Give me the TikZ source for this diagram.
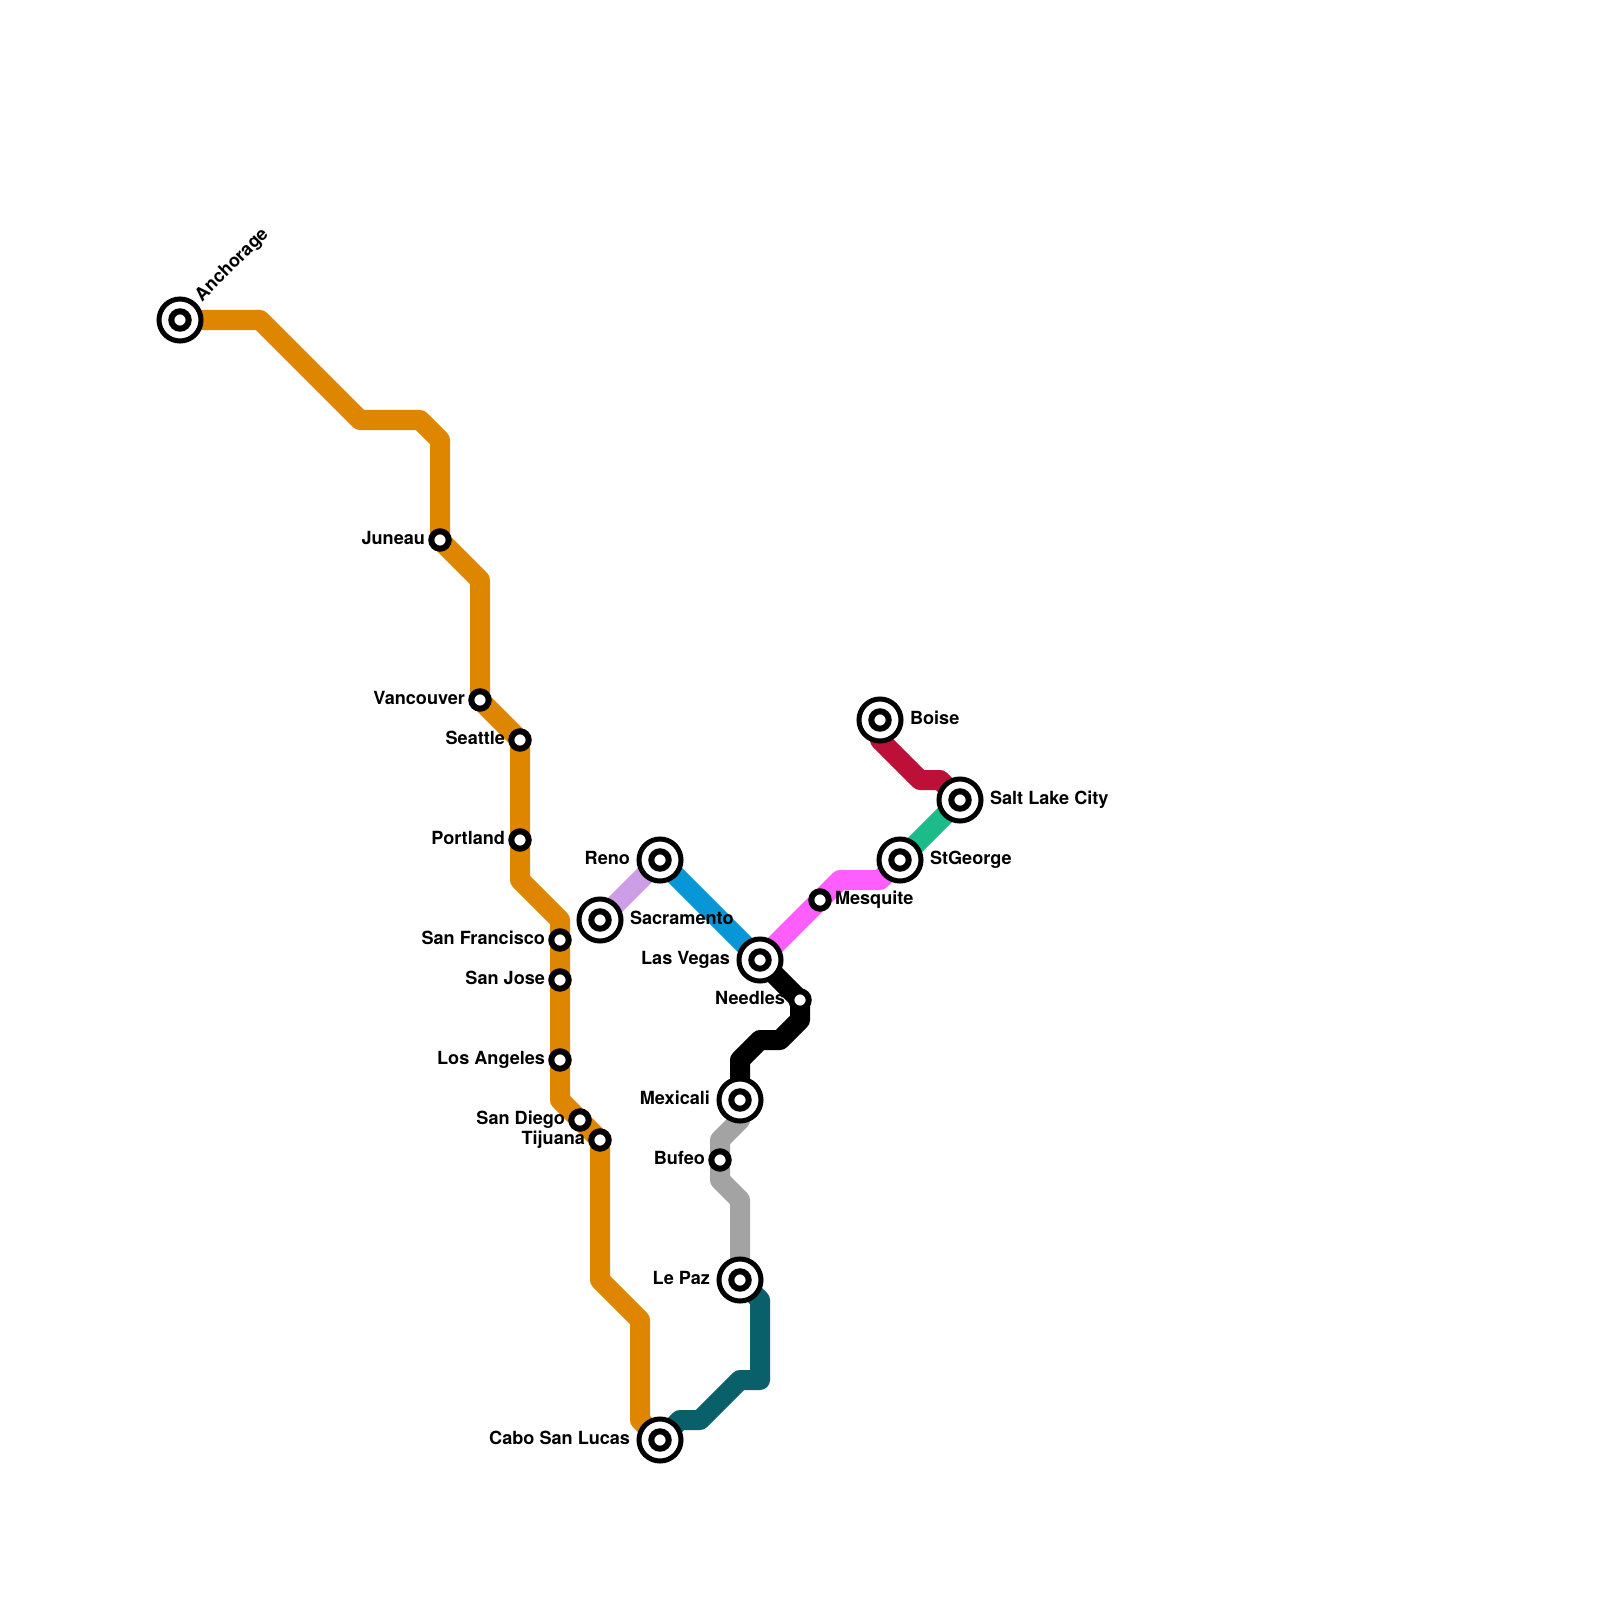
\documentclass[tikz,border=0pt]{standalone}
\usepackage{fontspec}
\setmainfont{TeX Gyre Heros}
\pgfdeclarelayer{lines}
\pgfsetlayers{lines,main}
\definecolor{cOrange}{HTML}{DF8600}
\definecolor{cRed}{HTML}{BD1038}
\definecolor{cTeal}{HTML}{09606A}
\definecolor{cLilac}{HTML}{CC9EE8}
\definecolor{cBlue}{HTML}{0896D7}
\definecolor{cPink}{HTML}{FF5EFF}
\definecolor{cGreen}{HTML}{1BBC8A}
\definecolor{cGray}{HTML}{A3A3A3}
\tikzset{
  route/.style={line width=0.2cm,line join=round,line cap=round},
  halt/.style={circle,draw=black,fill=white,line width=0.06cm,minimum size=0.174cm,inner sep=0pt,outer sep=0pt},
  hub/.style={circle,draw=black,fill=white,line width=0.05cm,minimum size=0.42cm,inner sep=0pt,outer sep=0pt,
    path picture={\draw[black,line width=0.06cm] (path picture bounding box.center) circle (0.087cm);}},
  lbl/.style={font=\fontsize{5.15}{6}\selectfont\bfseries,text=black,inner sep=0pt,outer sep=0pt},
  tl/.style={lbl,anchor=base east},
  tr/.style={lbl,anchor=base west},
}
\begin{document}
\begin{tikzpicture}[x=0.01cm,y=-0.01cm]
\useasboundingbox (0,0) rectangle (1600,1600);
% stations
\node[hub] (anchorage) at (180,320) {};
\node[halt] (juneau) at (440,540) {};
\node[halt] (vancouver) at (480,700) {};
\node[halt] (seattle) at (520,740) {};
\node[halt] (portland) at (520,840) {};
\node[halt] (sanfran) at (560,940) {};
\node[halt] (sanjose) at (560,980) {};
\node[halt] (losangeles) at (560,1060) {};
\node[halt] (sandiego) at (580,1120) {};
\node[halt] (tijuana) at (600,1140) {};
\node[hub] (cabo) at (660,1440) {};
\node[hub] (lepaz) at (740,1280) {};
\node[halt] (bufeo) at (720,1160) {};
\node[hub] (mexicali) at (740,1100) {};
\node[halt] (needles) at (800,1000) {};
\node[hub] (lasvegas) at (760,960) {};
\node[hub] (reno) at (660,860) {};
\node[hub] (sacramento) at (600,920) {};
\node[halt] (mesquite) at (820,900) {};
\node[hub] (stgeorge) at (900,860) {};
\node[hub] (saltlake) at (960,800) {};
\node[hub] (boise) at (880,720) {};
% labels
\node[lbl,anchor=base west,rotate=45] (lAnchorage) at (202,302) {Anchorage};
\node[tl] (lJuneau) at (425,544) {Juneau};
\node[tl] (lVancouver) at (465,704) {Vancouver};
\node[tl] (lSeattle) at (505,744) {Seattle};
\node[tl] (lPortland) at (505,844) {Portland};
\node[tl] (lSanFran) at (545,944) {San Francisco};
\node[tl] (lSanJose) at (545,984) {San Jose};
\node[tl] (lLA) at (545,1064) {Los Angeles};
\node[tl] (lSanDiego) at (565,1124) {San Diego};
\node[tl] (lTijuana) at (585,1144) {Tijuana};
\node[tl] (lCabo) at (630,1444) {Cabo San Lucas};
\node[tl] (lLePaz) at (710,1284) {Le Paz};
\node[tl] (lBufeo) at (705,1164) {Bufeo};
\node[tl] (lMexicali) at (710,1104) {Mexicali};
\node[tl] (lNeedles) at (785,1004) {Needles};
\node[tl] (lLasVegas) at (730,964) {Las Vegas};
\node[tl] (lReno) at (630,864) {Reno};
\node[tr] (lSacramento) at (630,924) {Sacramento};
\node[tr] (lMesquite) at (835,904) {Mesquite};
\node[tr] (lStGeorge) at (930,864) {StGeorge};
\node[tr] (lSaltLake) at (990,804) {Salt Lake City};
\node[tr] (lBoise) at (910,724) {Boise};
% routes
\begin{pgfonlayer}{lines}
\draw[route,cOrange] (anchorage.center) -- (260,320) -- (360,420) -- (420,420) -- (440,440) -- (juneau.center) -- (480,580) -- (vancouver.center) -- (seattle.center) -- (portland.center) -- (520,880) -- (560,920) -- (sanfran.center) -- (sanjose.center) -- (losangeles.center) -- (560,1100) -- (sandiego.center) -- (tijuana.center) -- (600,1280) -- (640,1320) -- (640,1420) -- (cabo.center);
\draw[route,cTeal] (cabo.center) -- (680,1420) -- (700,1420) -- (740,1380) -- (760,1380) -- (760,1300) -- (lepaz.center);
\draw[route,cGray] (lepaz.center) -- (740,1200) -- (720,1180) -- (bufeo.center) -- (720,1140) -- (740,1120) -- (mexicali.center);
\draw[route,black] (mexicali.center) -- (740,1060) -- (760,1040) -- (780,1040) -- (800,1020) -- (needles.center) -- (lasvegas.center);
\draw[route,cBlue] (lasvegas.center) -- (reno.center);
\draw[route,cLilac] (reno.center) -- (sacramento.center);
\draw[route,cPink] (lasvegas.center) -- (mesquite.center) -- (840,880) -- (880,880) -- (stgeorge.center);
\draw[route,cGreen] (stgeorge.center) -- (saltlake.center);
\draw[route,cRed] (saltlake.center) -- (940,780) -- (920,780) -- (880,740) -- (boise.center);
\end{pgfonlayer}
\end{tikzpicture}
\end{document}
